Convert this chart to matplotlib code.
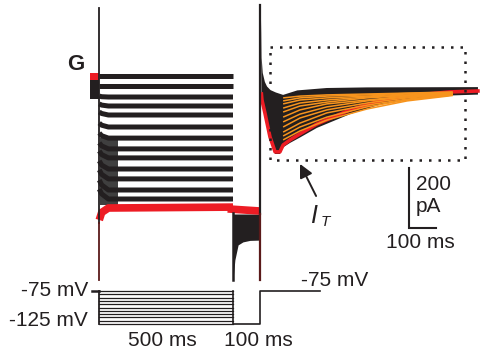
import matplotlib
matplotlib.use("Agg")
import matplotlib.pyplot as plt

plt.rcParams['font.family'] = ['Liberation Sans', 'DejaVu Sans']

# ---------------- data (time in ms, current in pA, voltage in mV) ----------------
# currents during the 500 ms conditioning steps (black traces)
step_levels = [40, 7, -30, -60, -90, -130, -167, -203, -233, -270, -303, -340, -370]
step_onset = [40, 7, -27, -53, -80, -117, -150, -183, -210, -243, -273, -307, -337]
step_mid = [40, 7, -29, -57, -85, -124, -159, -193, -222, -257, -288, -323, -353]
step_times = [1, 10, 35, 500]
red_step = [-440, -415, -400, -397]

# holding current before the steps
pre_times = [-34, -1]
pre_black = [-35, 27]
pre_red = [27, 50]

# 100 ms test step at -125 mV
test_times = [500, 507, 519, 537, 563, 600]
test_top = [-420, -420, -420, -420, -420, -420]
test_bottom = [-640, -573, -523, -513, -508, -507]
red_test_times = [480, 600]
red_test = [-403, -410]

# tail currents after return to -75 mV
tail_top_t = [604, 607, 611, 619, 627, 640, 660, 687, 740, 850, 1000, 1414]
tail_top_v = [250, 100, 50, 20, 5, -7, -15, -23, -8, 0, 2, 3]
red_tail_t = [606, 608, 619, 638, 657, 675, 687, 713, 750, 813, 937, 1060, 1187, 1310, 1414]
red_tail_v = [-20, -40, -83, -163, -213, -213, -190, -173, -153, -120, -73, -40, -23, -13, -10]
tail_bot_v = [-20, -45, -90, -170, -220, -220, -198, -183, -165, -133, -87, -52, -33, -25, -22]

# exponential fits of I_T (orange)
fit_t = [687, 750, 850, 1000, 1150, 1320]
fits = [
    [-33, -27, -23, -20, -17, -13],
    [-43, -33, -27, -23, -18, -15],
    [-53, -40, -33, -27, -20, -17],
    [-67, -50, -40, -30, -23, -17],
    [-80, -60, -47, -33, -25, -18],
    [-97, -73, -53, -40, -27, -20],
    [-113, -87, -63, -43, -30, -20],
    [-130, -100, -73, -50, -33, -22],
    [-147, -117, -83, -57, -37, -23],
    [-160, -130, -97, -63, -40, -23],
    [-173, -143, -107, -70, -43, -25],
]

# voltage protocol
v_levels = [-75, -80, -85, -90, -95, -100, -105, -110, -115, -120, -125]
v_hold = -75
v_test = -125
t_hold_start = -26
t_step_end = 500
t_test_end = 600
t_protocol_end = 825

# scale bars
sb_t0, sb_len_t = 1157, 100
sb_i0, sb_len_i = -467, 200

# dotted box around fitted region
box_t = [638, 1366]
box_i = [-240, 137]

# ---------------- figure ----------------
W, H = 481, 358
fig = plt.figure(figsize=(W / 100, H / 100), dpi=100)
ax = fig.add_axes([0, 0, 1, 1])
axv = fig.add_axes([0, 0, 1, 1])
for a in (ax, axv):
    a.set_axis_off()
    a.patch.set_alpha(0)
ax.set_xlim(-99 / 0.268, (W - 99) / 0.268)
ax.set_ylim((88 - H) / 0.3, 88 / 0.3)
axv.set_xlim(ax.get_xlim())
axv.set_ylim(-75 - (H - 291) / 0.66, -75 + 291 / 0.66)

BLACK = '#231f20'
RED = '#ed1c24'
ORANGE = '#f7941d'
DARKRED = '#5a1a1a'

# holding period block
ax.fill_between(pre_times, pre_black[0], pre_black[1], color=BLACK, lw=0, zorder=2)
ax.fill_between(pre_times, pre_red[0], pre_red[1], color=RED, lw=0, zorder=2)

# dark overlap patch at step onset (lower traces)
ax.fill_between([3, 70], -390, -165, color='#3f3f3f', lw=0, zorder=1)

# step traces
for on, mid, lev in zip(step_onset, step_mid, step_levels):
    ax.plot(step_times, [on, mid, lev, lev], color=BLACK, lw=3.6,
            solid_capstyle='butt', zorder=3)
ax.plot(step_times, red_step, color=RED, lw=5.5, solid_capstyle='butt', zorder=4)

# test step block
ax.fill_between(test_times, test_bottom, test_top, color=BLACK, lw=0, zorder=2)
ax.plot(red_test_times, red_test, color=RED, lw=5.5, solid_capstyle='butt', zorder=4)

# capacitive transients (vertical lines)
ax.plot([0, 0], [267, -450], color=BLACK, lw=1.3, zorder=5)
ax.plot([0, 0], [-450, -640], color=DARKRED, lw=1.3, zorder=5)
ax.plot([500, 500], [-417, -640], color=BLACK, lw=1.8, zorder=5)
ax.plot([600, 600], [277, -420], color=BLACK, lw=1.6, zorder=5)
ax.plot([600, 600], [-420, -640], color=DARKRED, lw=1.6, zorder=5)

# tail envelope
poly_t = tail_top_t + red_tail_t[::-1]
poly_v = tail_top_v + tail_bot_v[::-1]
ax.fill(poly_t, poly_v, color=BLACK, lw=0, zorder=2)
ax.plot(red_tail_t, red_tail_v, color=RED, lw=2.6, zorder=3, solid_joinstyle='round')

# fits
for f in fits:
    ax.plot(fit_t, f, color=ORANGE, lw=1.1, solid_capstyle='butt', zorder=4)

# dotted box
ax.plot([box_t[0], box_t[1], box_t[1], box_t[0], box_t[0]],
        [box_i[1], box_i[1], box_i[0], box_i[0], box_i[1]],
        color=BLACK, lw=1.8, linestyle=(0, (1, 2.8)), zorder=6)

# arrow
ax.annotate('', xy=(750, -253), xytext=(810, -360),
            arrowprops=dict(arrowstyle='-|>', color=BLACK, lw=1.4,
                            mutation_scale=20, shrinkA=0, shrinkB=0), zorder=6)

# scale bar
ax.plot([sb_t0, sb_t0, sb_t0 + sb_len_t], [sb_i0 + sb_len_i, sb_i0, sb_i0],
        color=BLACK, lw=1.5, solid_joinstyle='miter', zorder=6)

# voltage protocol
for v in v_levels:
    axv.plot([0, t_step_end], [v, v], color=BLACK, lw=0.9)
axv.plot([0, 0], [v_hold, v_test], color=BLACK, lw=1.3)
axv.plot([t_hold_start, 0], [v_hold, v_hold], color=BLACK, lw=1.8)
axv.plot([t_step_end, t_step_end, t_test_end, t_test_end, t_protocol_end],
         [v_hold, v_test, v_test, v_hold, v_hold], color=BLACK, lw=1.2)


def ftxt(x, y, s, **kw):
    fig.text(x / W, 1 - y / H, s, color=BLACK, **kw)


FS = 15
ftxt(88, 291, '-75 mV', fontsize=FS, ha='right', va='center')
ftxt(88, 321, '-125 mV', fontsize=FS, ha='right', va='center')
ftxt(162, 341, '500 ms', fontsize=FS, ha='center', va='center')
ftxt(258, 341, '100 ms', fontsize=FS, ha='center', va='center')
ftxt(335, 281, '-75 mV', fontsize=FS, ha='center', va='center')
ftxt(416, 185, '200', fontsize=FS, ha='left', va='center')
ftxt(416, 206, 'pA', fontsize=FS, ha='left', va='center')
ftxt(420, 242, '100 ms', fontsize=FS, ha='center', va='center')
ftxt(76, 65, 'G', fontsize=16, ha='center', va='center', fontweight='bold')
ftxt(310, 223, 'I', fontsize=18, ha='left', va='baseline', style='italic')
ftxt(321, 226, 'T', fontsize=11, ha='left', va='baseline', style='italic')

fig.savefig('out.png', dpi=100)
